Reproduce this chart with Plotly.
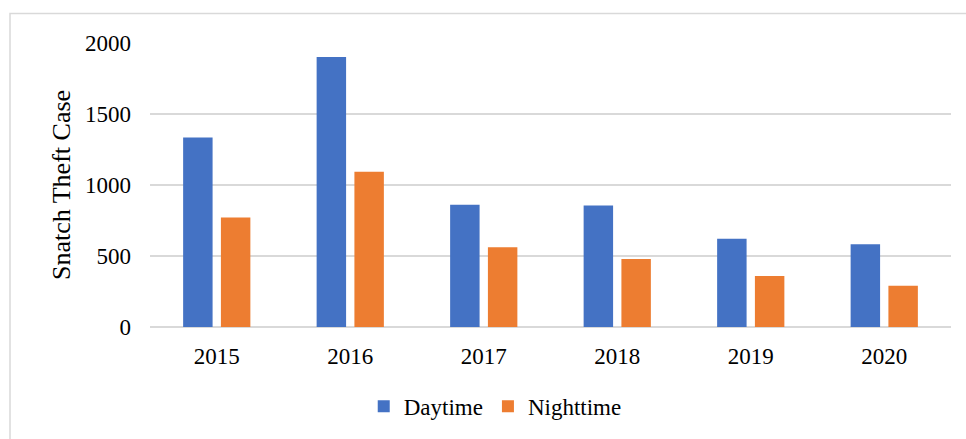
import plotly.graph_objects as go

# Snatch theft cases per year, split by time of day
years = ["2015", "2016", "2017", "2018", "2019", "2020"]
daytime = [1335, 1901, 861, 856, 621, 582]
nighttime = [771, 1093, 562, 478, 360, 290]
y_ticks = [0, 500, 1000, 1500, 2000]

BLUE = "#4472C4"
ORANGE = "#ED7D31"
GRID = "#D9D9D9"
FONT = "Liberation Serif"

fig = go.Figure()
fig.add_trace(go.Bar(name="Daytime", x=years, y=daytime,
                     marker=dict(color=BLUE, line=dict(width=0))))
fig.add_trace(go.Bar(name="Nighttime", x=years, y=nighttime,
                     marker=dict(color=ORANGE, line=dict(width=0))))

L, R, T, B = 150, 15, 42.6, 110.5
W, H = 966, 439
pw, ph = W - L - R, H - T - B

# light frame around the chart area (left and top edges fall inside the canvas)
fig.add_shape(type="rect", xref="paper", yref="paper",
              x0=(10 - L) / pw, x1=(W + 20 - L) / pw,
              y0=-(H + 20 - (H - B)) / ph, y1=(H - B - 13) / ph,
              line=dict(color=GRID, width=1.5), fillcolor="rgba(0,0,0,0)",
              layer="below")

fig.update_layout(
    width=W, height=H,
    margin=dict(l=L, r=R, t=T, b=B),
    paper_bgcolor="white", plot_bgcolor="white",
    barmode="group", bargap=0.434, bargroupgap=0.22,
    font=dict(family=FONT, size=23, color="black"),
    showlegend=True,
    legend=dict(orientation="h", x=0.431, xanchor="center", y=-0.275,
                yanchor="middle", font=dict(family=FONT, size=23),
                itemwidth=30, traceorder="normal"),
    xaxis=dict(showgrid=False, showline=False, ticks="",
               tickfont=dict(family=FONT, size=23), ticklabelstandoff=13),
    yaxis=dict(range=[0, 2000], tickvals=y_ticks, showline=False,
               showgrid=True, gridcolor=GRID, gridwidth=1.5,
               zeroline=True, zerolinecolor=GRID, zerolinewidth=1.5,
               ticks="", tickfont=dict(family=FONT, size=23),
               ticklabelstandoff=18,
               title=dict(text="Snatch Theft Case",
                          font=dict(family=FONT, size=26), standoff=6)),
)

fig.write_html("out.html")
